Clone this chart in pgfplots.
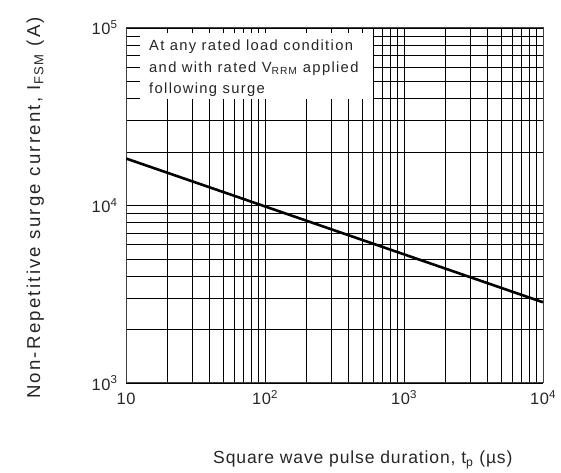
\documentclass[border=0pt]{standalone}
\usepackage{fontspec}
\setmainfont{Liberation Sans}
\usepackage{pgfplots}
\pgfplotsset{compat=1.18}
\begin{document}
\begin{tikzpicture}
\begin{loglogaxis}[
  at={(0,0)}, anchor=south west,
  scale only axis, width=417bp, height=355bp,
  xmin=10, xmax=10000, ymin=1000, ymax=100000,
  grid=both,
  major grid style={black, line width=0.8bp},
  minor grid style={black, line width=0.8bp},
  axis line style={black!75, line width=1bp},
  major tick length=0pt, minor tick length=0pt,
  xtick={10,100,1000,10000},
  xticklabels={10, 10\textsuperscript{2}, 10\textsuperscript{3}, 10\textsuperscript{4}},
  ytick={1000,10000,100000},
  yticklabels={10\textsuperscript{3}, 10\textsuperscript{4}, 10\textsuperscript{5}},
  ticklabel style={font={\fontsize{16.5}{19}\selectfont\addfontfeatures{LetterSpace=4}}, text=black!85},
  xticklabel style={anchor=base, yshift=-22bp},
  yticklabel style={xshift=-5bp},
  xlabel={Square wave pulse duration, t\textsubscript{p} (µs)},
  ylabel={Non-Repetitive surge current, I\textsubscript{FSM} (A)},
  xlabel style={at={(axis description cs:0.568,-0.228)}, anchor=base,
    font={\fontsize{17.6}{20}\selectfont\addfontfeatures{LetterSpace=5}}, text=black!85},
  ylabel style={at={(axis description cs:-0.206,0.493)}, anchor=base,
    font={\fontsize{18.7}{20}\selectfont\addfontfeatures{LetterSpace=12}}, text=black!85},
]
\addplot[black, line width=2.6bp] coordinates {(10,18400) (10000,2850)};
\fill[white] (rel axis cs:0.0336,0.800) rectangle (rel axis cs:0.592,0.986);
\begin{scope}[every node/.style={anchor=base west, inner sep=0pt, text=black!85,
      font={\fontsize{14.8}{18}\selectfont\addfontfeatures{LetterSpace=9}}}]
\node at (rel axis cs:0.0552,0.9352) {At any rated load condition};
\node at (rel axis cs:0.0552,0.8746) {and with rated V\textsubscript{RRM} applied};
\node at (rel axis cs:0.0552,0.8141) {following surge};
\end{scope}
\end{loglogaxis}
\path[use as bounding box] (-126bp,-89bp) rectangle (435bp,383bp);
\end{tikzpicture}
\end{document}
